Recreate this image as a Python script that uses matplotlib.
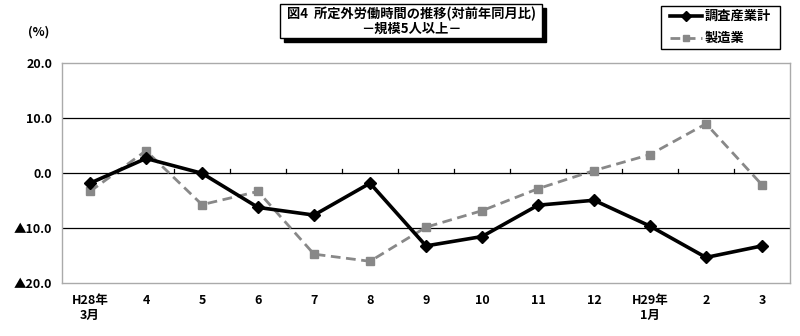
import matplotlib
matplotlib.use("Agg")
import matplotlib.pyplot as plt
from matplotlib.patches import Rectangle
from matplotlib.lines import Line2D

plt.rcParams['font.family'] = ['Noto Sans CJK JP', 'DejaVu Sans']

categories = ["H28年\n3月", "4", "5", "6", "7", "8", "9", "10", "11", "12", "H29年\n1月", "2", "3"]
total = [-1.8, 2.7, 0.0, -6.2, -7.6, -1.8, -13.2, -11.5, -5.8, -4.9, -9.6, -15.3, -13.2]
manuf = [-3.3, 4.1, -5.7, -3.3, -14.7, -16.0, -9.8, -6.8, -2.8, 0.5, 3.4, 9.0, -2.1]
yticks = [20, 10, 0, -10, -20]
ytick_labels = ["20.0", "10.0", "0.0", "▲10.0", "▲20.0"]
title_lines = ["図4  所定外労働時間の推移(対前年同月比)", "－規模5人以上－"]
series_names = ["調査産業計", "製造業"]

fig = plt.figure(figsize=(8, 3.36), dpi=100)
ax = fig.add_axes([62/800, 1-283.3/336, (790-62)/800, (283.3-63.3)/336])

x = list(range(len(categories)))
ax.set_xlim(-0.5, len(categories) - 0.5)
ax.set_ylim(-20, 20)

for y in [10, 0, -10]:
    ax.axhline(y, color='black', lw=0.9, zorder=1)

# small ticks on zero line at category boundaries
for b in range(1, len(categories)):
    ax.plot([b - 0.5, b - 0.5], [0, 0.8], color='black', lw=0.9, zorder=1)

ax.plot(x, manuf, color='#888888', lw=2, ls=(0, (3.5, 2)), marker='s', ms=6,
        mfc='#888888', mec='#888888', zorder=3)
ax.plot(x, total, color='black', lw=2.6, marker='D', ms=6, mfc='black', mec='black', zorder=4)

for s in ax.spines.values():
    s.set_color('#aaaaaa')
    s.set_linewidth(1)

ax.set_yticks(yticks)
ax.set_yticklabels(ytick_labels, fontsize=9, fontweight='bold')
ax.tick_params(axis='y', length=0, pad=7)
ax.set_xticks(x)
ax.set_xticklabels(categories, fontsize=9, fontweight='bold', va='top')
ax.tick_params(axis='x', length=0, pad=8)

fig.text(28/800, 1-32/336, "(%)", fontsize=9, fontweight='bold', va='center', ha='left')

# title box with shadow
tx0, ty0, tw, th = 280, 4, 262, 34
fig.patches.append(Rectangle(((tx0+4)/800, 1-(ty0+th+4)/336), tw/800, th/336,
                             transform=fig.transFigure, facecolor='black', edgecolor='black', zorder=1))
fig.patches.append(Rectangle((tx0/800, 1-(ty0+th)/336), tw/800, th/336,
                             transform=fig.transFigure, facecolor='white', edgecolor='black', lw=1, zorder=2))
fig.text((tx0+tw/2)/800, 1-14/336, title_lines[0], fontsize=9.5, fontweight='bold', ha='center', va='center', zorder=3)
fig.text((tx0+tw/2)/800, 1-29/336, title_lines[1], fontsize=9.5, fontweight='bold', ha='center', va='center', zorder=3)

# legend box
lx0, ly0, lw_, lh = 661, 6, 119, 43
fig.patches.append(Rectangle((lx0/800, 1-(ly0+lh)/336), lw_/800, lh/336,
                             transform=fig.transFigure, facecolor='white', edgecolor='black', lw=1))
fig.lines.append(Line2D([670/800, 702/800], [1-16/336, 1-16/336], transform=fig.transFigure,
                        color='black', lw=2.6))
fig.lines.append(Line2D([686/800], [1-16/336], transform=fig.transFigure, color='black', marker='D', ms=5, lw=0))
fig.lines.append(Line2D([670/800, 702/800], [1-38/336, 1-38/336], transform=fig.transFigure,
                        color='#888888', lw=2, ls=(0, (3.5, 2))))
fig.lines.append(Line2D([686/800], [1-38/336], transform=fig.transFigure, color='#888888', marker='s', ms=5, lw=0))
fig.text(705/800, 1-16/336, series_names[0], fontsize=9.5, fontweight='bold', va='center')
fig.text(705/800, 1-38/336, series_names[1], fontsize=9.5, fontweight='bold', va='center')

fig.savefig("out.png", dpi=100)
